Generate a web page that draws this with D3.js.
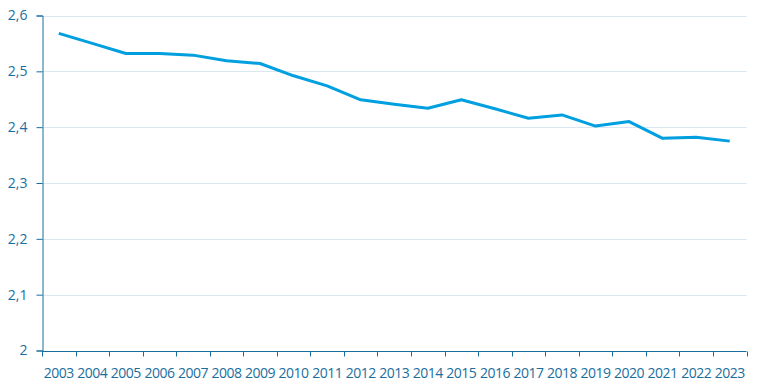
<!DOCTYPE html>
<html><head><meta charset="utf-8">
<script src="https://cdn.jsdelivr.net/npm/d3@7"></script>
<style>body{margin:0;background:#fff}svg{display:block}</style>
</head><body>
<svg id="c" width="757" height="390"></svg>
<script>
const years = ["2003","2004","2005","2006","2007","2008","2009","2010","2011","2012","2013","2014","2015","2016","2017","2018","2019","2020","2021","2022","2023"];
const values = [2.568,2.550,2.532,2.532,2.529,2.519,2.514,2.492,2.474,2.449,2.441,2.434,2.449,2.433,2.416,2.422,2.402,2.410,2.380,2.382,2.375];
const yTicks = [2,2.1,2.2,2.3,2.4,2.5,2.6];

const svg = d3.select("#c");
const m = {l:42, r:10.5, t:15.5, b:39.5};
const W = 757, H = 390;
const x = d3.scaleBand().domain(years).range([m.l, W - m.r]);
const y = d3.scaleLinear().domain([2, 2.6]).range([H - m.b, m.t]);
const axisColor = "#1a6e9e";
const fmt = d => d3.format(".1f")(d).replace(".", ",").replace(/,0$/, "");

// gridlines
svg.append("g").selectAll("line").data(yTicks.filter(d => d > 2)).join("line")
  .attr("x1", m.l).attr("x2", W - m.r)
  .attr("y1", d => Math.round(y(d)) + 0.5).attr("y2", d => Math.round(y(d)) + 0.5)
  .attr("stroke", "#d9e7f0").attr("stroke-width", 1);

// y axis
const ya = svg.append("g").attr("transform", `translate(${m.l + 0.5},0)`)
  .call(d3.axisLeft(y).tickValues(yTicks).tickFormat(fmt).tickSize(6).tickPadding(9));
ya.selectAll("path,line").attr("stroke", axisColor);
ya.selectAll("text").attr("fill", axisColor).style("font-family", "'Open Sans', sans-serif").style("font-size", "14px");

// x axis with ticks at band boundaries
const xa = svg.append("g").attr("transform", `translate(0,${Math.round(y(2)) + 0.5})`);
xa.append("line").attr("x1", m.l).attr("x2", W - m.r).attr("stroke", axisColor);
const bounds = years.map(d => x(d)).concat([x(years[years.length-1]) + x.bandwidth()]);
xa.selectAll("line.t").data(bounds).join("line").attr("class","t")
  .attr("x1", d => Math.round(d) + 0.5).attr("x2", d => Math.round(d) + 0.5)
  .attr("y1", 0).attr("y2", 5).attr("stroke", axisColor);
xa.selectAll("text").data(years).join("text")
  .attr("x", d => x(d) + x.bandwidth()/2).attr("y", 26)
  .attr("text-anchor", "middle").attr("fill", axisColor)
  .style("font-family", "'Open Sans', sans-serif").style("font-size", "14px").style("letter-spacing", "-0.5px")
  .text(d => d);

// line
const line = d3.line().x((d, i) => x(years[i]) + x.bandwidth()/2).y(d => y(d));
svg.append("path").datum(values).attr("d", line)
  .attr("fill", "none").attr("stroke", "#009fdf").attr("stroke-width", 3)
  .attr("stroke-linejoin", "round").attr("stroke-linecap", "butt");
</script>
</body></html>
